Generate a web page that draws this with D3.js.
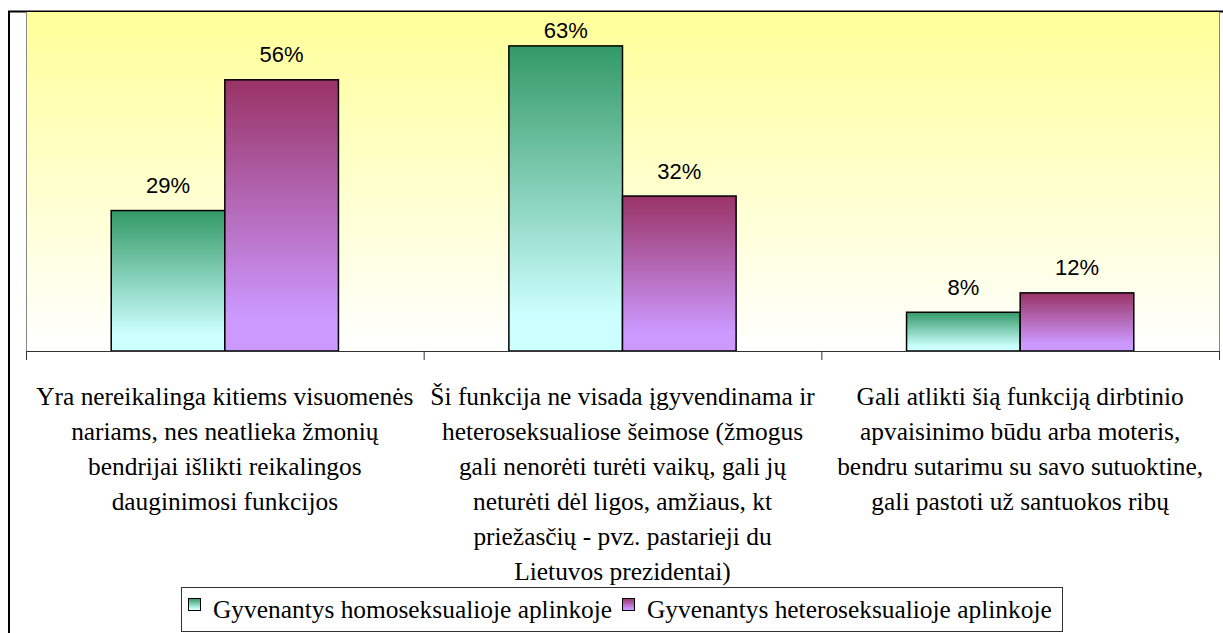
<!DOCTYPE html>
<html>
<head>
    <meta charset="utf-8">
    <script src="https://d3js.org/d3.v7.min.js"></script>
    <style type="text/css">
        body { margin: 0; background: #fff; }
    </style>
</head>
<body>
    <svg id="chart" width="1223" height="633"></svg>

    <script>
        // categories (already broken into lines like in the original)
        var categories = [
            ["Yra nereikalinga kitiems visuomenės", "nariams, nes neatlieka žmonių", "bendrijai išlikti reikalingos", "dauginimosi funkcijos"],
            ["Ši funkcija ne visada įgyvendinama ir", "heteroseksualiose šeimose (žmogus", "gali nenorėti turėti vaikų, gali jų", "neturėti dėl ligos, amžiaus, kt", "priežasčių - pvz. pastarieji du", "Lietuvos prezidentai)"],
            ["Gali atlikti šią funkciją dirbtinio", "apvaisinimo būdu arba moteris,", "bendru sutarimu su savo sutuoktine,", "gali pastoti už santuokos ribų"]
        ];
        var seriesNames = ["Gyvenantys homoseksualioje aplinkoje", "Gyvenantys heteroseksualioje aplinkoje"];
        var homoValues = [0.29, 0.63, 0.08];
        var heteroValues = [0.56, 0.32, 0.12];

        var serif = "Liberation Serif";
        var sans = "Liberation Sans";

        var svg = d3.select("#chart");

        var plot = { left: 26, right: 1219, top: 12, bottom: 351 };

        var defs = svg.append("defs");
        function vGrad(id, top, bottom, stopAt) {
            var g = defs.append("linearGradient").attr("id", id)
                .attr("x1", 0).attr("y1", 0).attr("x2", 0).attr("y2", 1);
            g.append("stop").attr("offset", "0%").attr("stop-color", top);
            g.append("stop").attr("offset", stopAt).attr("stop-color", bottom);
        }
        vGrad("bg", "#ffff99", "#ffffff", "100%");
        vGrad("g0", "#339966", "#ccffff", "88%");
        vGrad("g1", "#993366", "#cc99ff", "88%");

        // outer chart border (left + top)
        svg.append("rect")
            .attr("x", 9).attr("y", 11.5)
            .attr("width", 1240).attr("height", 640)
            .attr("fill", "#fff").attr("stroke", "#000").attr("stroke-width", 2);

        // plot background
        svg.append("rect")
            .attr("x", plot.left).attr("y", plot.top)
            .attr("width", plot.right - plot.left).attr("height", plot.bottom - plot.top)
            .attr("fill", "url(#bg)");
        svg.append("line").attr("x1", plot.left + 0.5).attr("x2", plot.left + 0.5)
            .attr("y1", plot.top).attr("y2", plot.bottom).attr("stroke", "#888");
        svg.append("line").attr("x1", plot.right + 0.5).attr("x2", plot.right + 0.5)
            .attr("y1", plot.top).attr("y2", plot.bottom).attr("stroke", "#888");

        var x0 = d3.scaleBand().domain(d3.range(categories.length)).range([plot.left, plot.right]);
        var bw = x0.bandwidth();
        var gap = bw * 1.5 / 3.5;
        var x1 = d3.scaleBand().domain([0, 1]).range([gap / 2, bw - gap / 2]);
        var y = d3.scaleLinear().domain([0, 0.7]).range([plot.bottom, plot.top]);

        var rows = categories.map(function(c, i) {
            return { i: i, vals: [homoValues[i], heteroValues[i]] };
        });

        var groups = svg.selectAll("g.cat").data(rows).enter().append("g")
            .attr("class", "cat")
            .attr("transform", function(d) { return "translate(" + x0(d.i) + ",0)"; });

        groups.selectAll("rect").data(function(d) { return d.vals; }).enter().append("rect")
            .attr("x", function(d, j) { return x1(j); })
            .attr("y", function(d) { return y(d); })
            .attr("width", x1.bandwidth())
            .attr("height", function(d) { return y(0) - y(d); })
            .attr("fill", function(d, j) { return "url(#g" + j + ")"; })
            .attr("stroke", "#000").attr("stroke-width", 1.5);

        // labels sit above bars, but are kept inside the plot area
        groups.selectAll("text.val-label").data(function(d) { return d.vals; }).enter().append("text")
            .attr("class", "val-label")
            .attr("font-family", sans).attr("font-size", 22).attr("text-anchor", "middle")
            .attr("x", function(d, j) { return x1(j) + x1.bandwidth() / 2; })
            .attr("y", function(d) { return Math.max(y(d) - 17.5, plot.top + 26); })
            .text(function(d) { return Math.round(d * 100) + "%"; });

        // x axis
        var xAxis = d3.axisBottom(d3.scaleLinear().domain([0, categories.length]).range([plot.left, plot.right]))
            .ticks(categories.length).tickSize(9).tickFormat("");
        var ax = svg.append("g").attr("transform", "translate(0," + plot.bottom + ")").call(xAxis);
        ax.select(".domain").attr("stroke", "#333").attr("d", "M" + plot.left + ",0.5H" + (plot.right + 1));
        ax.selectAll(".tick line").attr("stroke", "#333");

        // category labels
        svg.selectAll("text.cat-label").data(categories).enter().append("text")
            .attr("class", "cat-label")
            .attr("font-family", serif).attr("font-size", 25.4).attr("text-anchor", "middle")
            .attr("transform", function(d, i) { return "translate(" + (x0(i) + bw / 2) + ",405)"; })
            .selectAll("tspan").data(function(d) { return d; }).enter().append("tspan")
            .attr("x", 0).attr("y", function(d, k) { return k * 35; })
            .text(function(d) { return d; });

        // legend
        var lg = svg.append("g");
        lg.append("rect").attr("x", 181.5).attr("y", 587.5).attr("width", 881).attr("height", 44)
            .attr("fill", "#fff").attr("stroke", "#333");
        var legendX = [188, 622];
        seriesNames.forEach(function(name, j) {
            lg.append("rect").attr("x", legendX[j] + 0.5).attr("y", 598.5).attr("width", 12).attr("height", 12)
                .attr("fill", "url(#g" + j + ")").attr("stroke", "#000");
            lg.append("text").attr("font-family", serif).attr("font-size", 25.4)
                .attr("x", legendX[j] + 25).attr("y", 618).text(name);
        });
    </script>
</body>
</html>
